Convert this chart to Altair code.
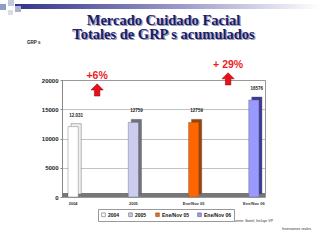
import altair as alt
import pandas as pd

# ---- data ----
categories = ["2004", "2005", "Ene/Nov 05", "Ene/Nov 06"]
values = [12031, 12759, 12759, 16576]
value_labels = ["12.031", "12759", "12759", "16576"]
front_colors = ["#ffffff", "#ccccee", "#ff6600", "#9999ff"]
side_colors = ["#eeeeee", "#70707f", "#a33f00", "#3a3a99"]
y_ticks = [0, 5000, 10000, 15000, 20000]
title_lines = ["Mercado Cuidado Facial", "Totales de GRP s acumulados"]
annot_labels = ["+6%", "+ 29%"]
annot_cats = ["2004", "Ene/Nov 05"]
annot_text_y = [20600, 22500]
annot_arrow_y = [18300, 20200]
unit_label = ["GRP s"]
footer_lines = ["Fuente: Ibotel, Incluye VP", "Inversiones reales"]

df = pd.DataFrame({"cat": categories, "value": values, "label": value_labels, "side": side_colors})

W, H = 203, 117
SANS = "Liberation Sans"

xscale = alt.Scale(domain=categories, paddingInner=0.83, paddingOuter=0.1)
yscale = alt.Scale(domain=[0, 20000])
xaxis = alt.Axis(title=None, labelAngle=0, labelFontSize=4, labelFontWeight="bold",
                 labelColor="#333", labelFont=SANS, domain=False, ticks=False, labelPadding=4)
yaxis = alt.Axis(title=None, values=y_ticks, format="d", labelFontSize=6, labelFontWeight="bold",
                 labelColor="#222", labelFont=SANS, gridColor="#999", gridWidth=0.6,
                 domainColor="#888", tickColor="#888", tickSize=2, labelPadding=2)

def X(field="cat:N"):
    return alt.X(field, sort=categories, scale=xscale, axis=xaxis)

def Y(field="value:Q"):
    return alt.Y(field, scale=yscale, axis=yaxis)

base = alt.Chart(df)

floor = alt.Chart(pd.DataFrame({"v": [0]})).mark_rule(color="#777", strokeWidth=4, yOffset=-2).encode(
    y=Y("v:Q"))

side = base.mark_bar(xOffset=3, yOffset=-3, stroke="#555", strokeWidth=0.4).encode(
    x=X(), y=Y(), color=alt.Color("side:N", scale=None))

front = base.mark_bar(stroke="#666", strokeWidth=0.4).encode(
    x=X(), y=Y(),
    color=alt.Color("cat:N", sort=categories,
                    scale=alt.Scale(domain=categories, range=front_colors),
                    legend=alt.Legend(title=None, orient="none", legendX=36, legendY=129,
                                      direction="horizontal", symbolType="square", symbolSize=14,
                                      symbolStrokeColor="#666", symbolStrokeWidth=0.5,
                                      labelFontSize=5, labelFontWeight="bold", labelColor="#111",
                                      labelFont=SANS, strokeColor="#999", fillColor="#ffffff",
                                      padding=3, columnPadding=7, labelOffset=2)))

vlabels = base.mark_text(dx=3, dy=-11, fontSize=4.5, fontWeight="bold", color="#222", font=SANS).encode(
    x=X(), y=Y(), text="label:N")

arrow_path = "M-0.45,1L-0.45,0L-1,0L0,-1L1,0L0.45,0L0.45,1Z"
annot_shift = [24, 34.5]
annots = []
for i in range(len(annot_labels)):
    d = pd.DataFrame({"cat": [annot_cats[i]], "ty": [annot_text_y[i]], "ay": [annot_arrow_y[i]],
                      "t": [annot_labels[i]]})
    annots.append(alt.Chart(d).mark_text(xOffset=annot_shift[i], fontSize=10.5, fontWeight="bold",
                                         color="#ee1c1c", font=SANS).encode(
        x=X(), y=Y("ty:Q"), text="t:N"))
    annots.append(alt.Chart(d).mark_point(xOffset=annot_shift[i], shape=arrow_path, size=150, filled=True,
                                          fill="#e8101c", stroke="#8a0000", strokeWidth=0.5,
                                          opacity=1).encode(
        x=X(), y=Y("ay:Q")))

one = pd.DataFrame({"a": [0]})
grad = alt.LinearGradient(gradient="linear", x1=0, x2=1, y1=0, y2=0,
                          stops=[alt.GradientStop(color="#343489", offset=0),
                                 alt.GradientStop(color="#9c9ccc", offset=0.55),
                                 alt.GradientStop(color="#ffffff", offset=1)])
header_bar = alt.Chart(one).mark_rect(fill=grad).encode(
    x=alt.value(-47), x2=alt.value(258), y=alt.value(-76), y2=alt.value(-71))
squares = []
for (sx, sy, sw, c) in [(-62, -76, 6, "#8f9cc4"), (-54, -80, 6, "#c3c9dc"),
                        (-47, -74, 6, "#aab2cc"), (-54, -70, 5, "#d9dde9")]:
    squares.append(alt.Chart(one).mark_rect(fill=c).encode(
        x=alt.value(sx), x2=alt.value(sx + sw), y=alt.value(sy), y2=alt.value(sy + sw)))

# title lines as text, with a soft drop shadow
title_marks = []
for j, ty in enumerate([-55, -41.5]):
    tdf = pd.DataFrame({"t": [title_lines[j]]})
    for (off, col) in [(1.3, "#9a9ab0"), (0, "#1b1b6e")]:
        title_marks.append(alt.Chart(tdf).mark_text(
            align="center", baseline="alphabetic", fontSize=14.5, fontWeight="bold",
            font="Liberation Serif", color=col).encode(
            x=alt.value(W / 2 + off), y=alt.value(ty + off), text="t:N"))

unit = alt.Chart(pd.DataFrame({"t": unit_label})).mark_text(
    align="left", baseline="middle", fontSize=4.5, fontWeight="bold", color="#222", font=SANS).encode(
    x=alt.value(-35), y=alt.value(-37), text="t:N")
foot1 = alt.Chart(pd.DataFrame({"t": [footer_lines[0]]})).mark_text(
    align="left", baseline="middle", fontSize=3.6, color="#333", font=SANS).encode(
    x=alt.value(170), y=alt.value(141), text="t:N")
foot2 = alt.Chart(pd.DataFrame({"t": [footer_lines[1]]})).mark_text(
    align="left", baseline="middle", fontSize=3.6, color="#333", font=SANS).encode(
    x=alt.value(220), y=alt.value(149), text="t:N")

chart = alt.layer(header_bar, *squares, *title_marks, floor, side, front, vlabels, *annots,
                  unit, foot1, foot2).properties(
    width=W, height=H,
    autosize=alt.AutoSizeParams(type="none"),
    padding={"left": 62, "top": 80, "right": 55, "bottom": 43},
    background="#ffffff",
).configure_view(stroke="#999", strokeWidth=1)

chart.save("out.html", embed_options={"renderer": "svg", "actions": False})
